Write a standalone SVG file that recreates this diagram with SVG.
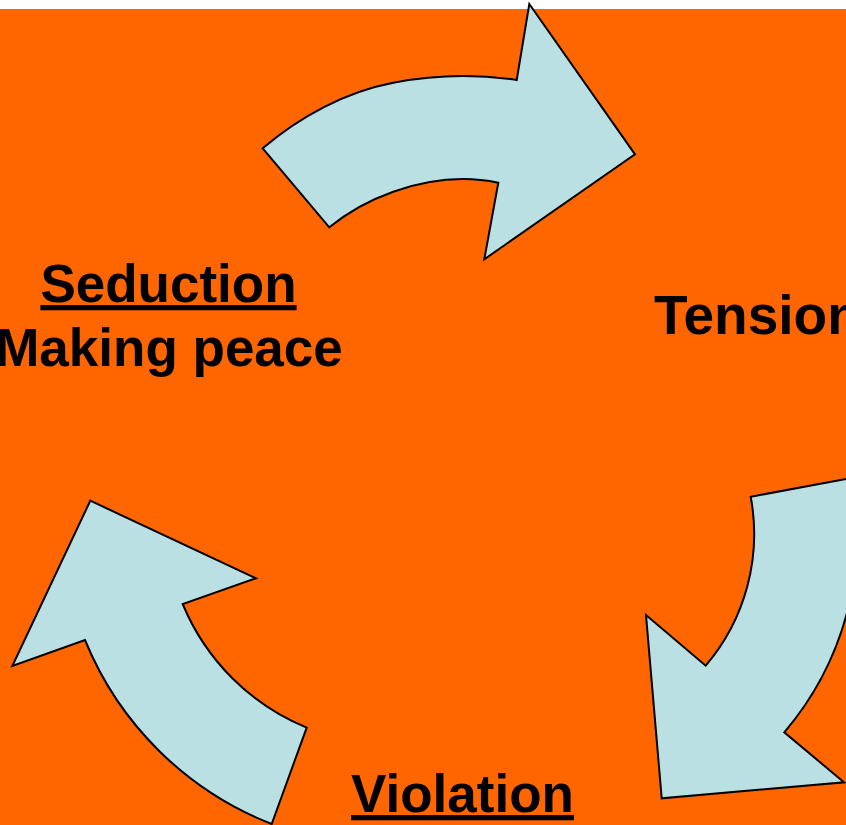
<svg xmlns="http://www.w3.org/2000/svg" width="846" height="825" viewBox="0 0 846 825">
  <style>
    .arrow { fill: #BBE0E3; stroke: #000000; stroke-width: 2; stroke-linejoin: miter; }
    .label { font-family: "Liberation Sans", Arial, sans-serif; font-weight: bold; font-size: 53px; fill: #000000; }
    .ul { text-decoration: underline; }
  </style>
  <rect x="0" y="0" width="846" height="825" fill="#FFFFFF"/>
  <rect x="0" y="9" width="846" height="816" fill="#FF6600"/>

  <g id="connectors">
    <path id="arrow-top" class="arrow" d="M 262.7,148.3 C 299.7,116.6 345.5,91.8 393.3,82.7 C 433.7,75.0 476.1,74.0 516.7,80 L 529.3,4 L 635,154.3 L 484.3,259.3 L 498.3,182.7 C 463.9,175.6 426.4,180.1 393.3,191.7 C 370.3,199.8 348.2,211.8 329.3,227.3 Z"/>
    <path id="arrow-right" class="arrow" d="M 852,478 A 305 305 0 0 1 784.3,732.3 L 844,782.3 L 661.7,798.3 L 646,615 L 705.7,665.7 A 203 203 0 0 0 750.7,496.7 Z"/>
    <path id="arrow-left" class="arrow" d="M 90.3,500.7 L 256,578.3 L 182.7,604 A 228 228 0 0 0 306.7,727.7 L 271.7,824 A 332 332 0 0 1 85,640 L 12.3,666 Z"/>
  </g>

  <g id="node-seduction">
    <text class="label ul" x="168.5" y="302" text-anchor="middle">Seduction</text>
    <text class="label" x="169" y="366" text-anchor="middle">Making peace</text>
  </g>
  <g id="node-tension">
    <text class="label" x="654" y="334" style="font-size:55px">Tension</text>
  </g>
  <g id="node-violation">
    <text class="label ul" x="462.5" y="812" text-anchor="middle">Violation</text>
  </g>
</svg>
